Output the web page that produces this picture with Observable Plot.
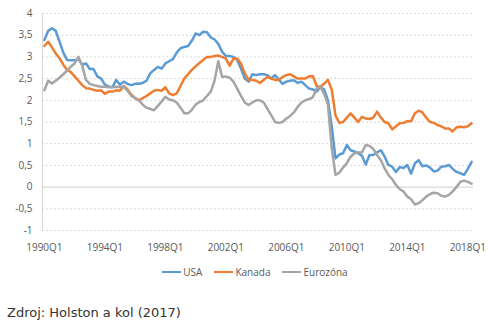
<!DOCTYPE html>
<html>
<head>
<meta charset="utf-8">
<script src="https://cdn.jsdelivr.net/npm/d3@7"></script>
<script src="https://cdn.jsdelivr.net/npm/@observablehq/plot@0.6"></script>
<style>
  html, body { margin: 0; padding: 0; background: #fff; }
  #wrap { position: relative; width: 500px; height: 327px; overflow: hidden; }
  #legend { position: absolute; top: 265px; left: 0; width: 500px; display: flex; justify-content: center; padding-left: 10px; box-sizing: border-box;
            font: 10px "Open Sans", "Liberation Sans", sans-serif; color: #595959; }
  #legend .item { display: flex; align-items: center; margin: 0 6px; }
  #legend .sw { width: 19px; height: 2.5px; margin-right: 2px; }
  #caption { position: absolute; top: 305px; left: 7px; font: 13px "DejaVu Sans", sans-serif; color: #333; }
</style>
</head>
<body>
<div id="wrap">
  <div id="chart"></div>
  <div id="legend"></div>
  <div id="caption">Zdroj: Holston a kol (2017)</div>
</div>
<script>
const seriesNames = ["USA", "Kanada", "Eurozóna"];
const seriesColors = ["#5B9BD5", "#ED7D31", "#A5A5A5"];

const usa = [
  3.39, 3.60, 3.66, 3.60,  3.35, 3.10, 2.93, 2.92,  2.92, 2.95, 2.82, 2.85,
  2.72, 2.72, 2.55, 2.50,  2.36, 2.32, 2.30, 2.47,  2.36, 2.43, 2.38, 2.35,
  2.38, 2.38, 2.40, 2.45,  2.62, 2.70, 2.77, 2.73,  2.85, 2.90, 2.95, 3.10,
  3.20, 3.23, 3.25, 3.37,  3.54, 3.50, 3.58, 3.57,  3.45, 3.40, 3.30, 3.12,
  3.02, 3.02, 3.00, 2.93,  2.73, 2.50, 2.43, 2.60,  2.58, 2.60, 2.60, 2.58,
  2.50, 2.58, 2.48, 2.38,  2.43, 2.45, 2.46, 2.40,  2.43, 2.35, 2.27, 2.25,
  2.20, 2.30, 2.25, 2.00,  1.40, 0.66, 0.75, 0.78,  0.97, 0.85, 0.82, 0.78,
  0.72, 0.52, 0.74, 0.74,  0.80, 0.85, 0.70, 0.51,  0.47, 0.35, 0.46, 0.44,
  0.51, 0.31, 0.55, 0.62,  0.48, 0.50, 0.45, 0.36,  0.38, 0.47, 0.48, 0.51,
  0.42, 0.35, 0.32, 0.28,  0.42, 0.58
];
const kanada = [
  3.25, 3.35, 3.22, 3.08,  2.97, 2.82, 2.70, 2.65,  2.55, 2.45, 2.35, 2.28,
  2.27, 2.24, 2.22, 2.23,  2.15, 2.20, 2.20, 2.23,  2.22, 2.33, 2.25, 2.13,
  2.05, 2.00, 2.05, 2.10,  2.16, 2.22, 2.24, 2.22,  2.30, 2.16, 2.12, 2.16,
  2.33, 2.50, 2.60, 2.70,  2.78, 2.86, 2.93, 3.00,  3.00, 3.02, 3.03, 3.00,
  2.96, 2.80, 2.96, 2.96,  2.85, 2.62, 2.47, 2.47,  2.45, 2.40, 2.47, 2.54,
  2.50, 2.47, 2.47, 2.54,  2.58, 2.60, 2.55, 2.50,  2.50, 2.50, 2.55, 2.56,
  2.33, 2.31, 2.38, 2.47,  2.25, 1.65, 1.48, 1.50,  1.60, 1.70, 1.60, 1.50,
  1.62, 1.58, 1.57, 1.60,  1.74, 1.60, 1.50, 1.47,  1.33, 1.40, 1.47, 1.48,
  1.52, 1.52, 1.70, 1.76,  1.72, 1.60, 1.50, 1.48,  1.43, 1.40, 1.35, 1.35,
  1.28, 1.38, 1.39, 1.38,  1.40, 1.47
];
const eurozona = [
  2.23, 2.45, 2.39, 2.45,  2.52, 2.60, 2.68, 2.78,  2.85, 3.00, 2.80, 2.47,
  2.38, 2.35, 2.33, 2.31,  2.31, 2.30, 2.30, 2.31,  2.30, 2.31, 2.22, 2.10,
  2.05, 2.00, 1.90, 1.83,  1.80, 1.77, 1.87, 1.97,  2.08, 2.02, 2.00, 1.95,
  1.83, 1.70, 1.70, 1.78,  1.90, 1.96, 2.00, 2.10,  2.20, 2.45, 2.90, 2.54,
  2.55, 2.52, 2.43, 2.27,  2.10, 1.95, 1.89, 1.95,  2.00, 2.00, 1.95, 1.80,
  1.66, 1.50, 1.48, 1.50,  1.58, 1.64, 1.72, 1.85,  1.95, 2.00, 2.03, 2.07,
  2.27, 2.31, 2.15, 1.90,  0.90, 0.28, 0.33, 0.45,  0.55, 0.70, 0.78, 0.80,
  0.80, 0.97, 0.95, 0.88,  0.74, 0.62, 0.43, 0.28,  0.18, 0.05, -0.05, -0.10,
  -0.22, -0.28, -0.40, -0.37,  -0.30, -0.22, -0.16, -0.13,  -0.14, -0.20, -0.22, -0.18,
  -0.10, 0.00, 0.12, 0.15,  0.12, 0.08
];
const yTicks = [-1, -0.5, 0, 0.5, 1, 1.5, 2, 2.5, 3, 3.5, 4];
const xTickLabels = ["1990Q1", "1994Q1", "1998Q1", "2002Q1", "2006Q1", "2010Q1", "2014Q1", "2018Q1"];

// quarter labels 1990Q1 ... 2018Q2
const quarters = [];
for (let y = 1990; y <= 2018; y++) for (let q = 1; q <= 4; q++) quarters.push(y + "Q" + q);
quarters.length = usa.length;

const rows = [];
[usa, kanada, eurozona].forEach((arr, s) => arr.forEach((v, i) => rows.push({i, q: quarters[i], series: seriesNames[s], value: v})));

const xTickIdx = xTickLabels.map(l => quarters.indexOf(l));
const n = quarters.length;

const chart = Plot.plot({
  width: 500,
  height: 260,
  marginLeft: 42,
  marginRight: 27,
  marginTop: 13,
  marginBottom: 30,
  style: {fontFamily: "'Open Sans', 'Liberation Sans', sans-serif", fontSize: "10px", color: "#595959", background: "#fff"},
  x: {domain: [-0.5, n - 0.5], axis: null, label: null},
  y: {domain: [-1, 4], axis: null, label: null},
  color: {domain: seriesNames, range: seriesColors},
  marks: [
    Plot.gridY(yTicks.filter(d => d !== 0), {stroke: "#d9d9d9", strokeOpacity: 1, strokeDasharray: "2,2"}),
    Plot.ruleY([0], {stroke: "#d9d9d9", strokeWidth: 1.2}),
    Plot.ruleX([-0.5], {y1: -1, y2: 4, stroke: "#d9d9d9", strokeWidth: 1.2}),
    Plot.line(rows, {x: "i", y: "value", z: "series", stroke: "series", strokeWidth: 2.5, strokeLinejoin: "round"}),
    Plot.axisY(yTicks, {anchor: "left", label: null, tickSize: 0, tickPadding: 10, tickFormat: d => String(d).replace(".", ","), fill: "#595959", fontSize: 10}),
    Plot.axisX(xTickIdx, {anchor: "bottom", label: null, tickSize: 0, tickPadding: 13, tickFormat: i => quarters[i], fill: "#595959", fontSize: 10})
  ]
});
document.getElementById("chart").appendChild(chart);

const legend = document.getElementById("legend");
seriesNames.forEach((name, k) => {
  const it = document.createElement("div");
  it.className = "item";
  const sw = document.createElement("span");
  sw.className = "sw";
  sw.style.background = seriesColors[k];
  const t = document.createElement("span");
  t.textContent = name;
  it.appendChild(sw); it.appendChild(t);
  legend.appendChild(it);
});
</script>
</body>
</html>
